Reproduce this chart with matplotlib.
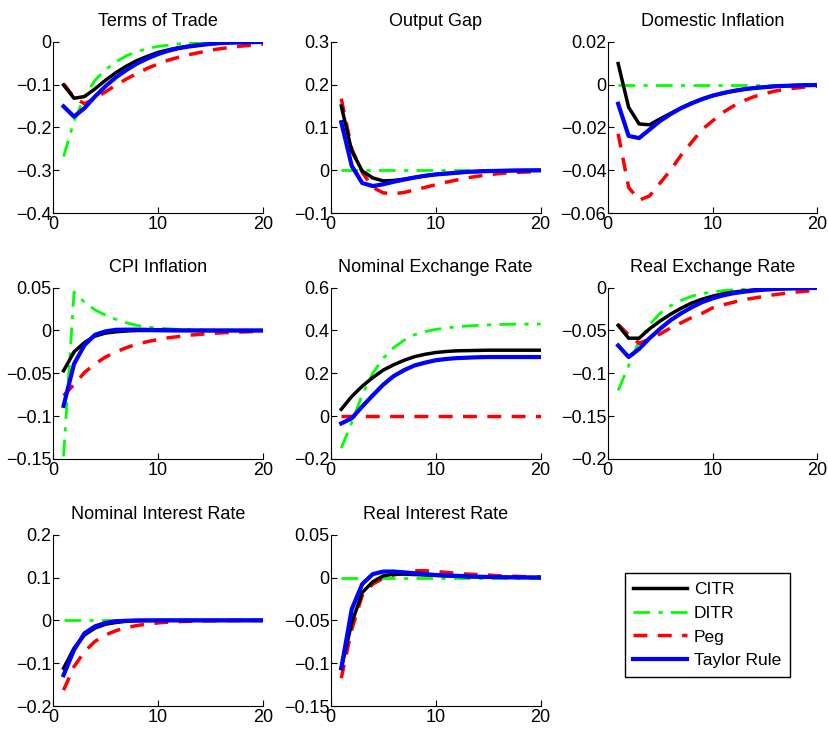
import numpy as np
import matplotlib
matplotlib.use('Agg')
import matplotlib.pyplot as plt

plt.rcParams['font.family'] = ['Liberation Sans', 'DejaVu Sans']
plt.rcParams['font.size'] = 12

periods = np.arange(1, 21)
rules = ['CITR', 'DITR', 'Peg', 'Taylor Rule']

# terms of trade
tot_citr = [-0.101, -0.132, -0.128, -0.110, -0.090, -0.072, -0.057, -0.044, -0.034, -0.025,
            -0.019, -0.014, -0.010, -0.007, -0.005, -0.003, -0.002, -0.0015, -0.001, -0.0007]
tot_ditr = [-0.268, -0.186, -0.128, -0.090, -0.065, -0.047, -0.033, -0.023, -0.016, -0.011,
            -0.008, -0.005, -0.003, -0.002, -0.0015, -0.001, -0.0007, -0.0005, -0.0003, -0.0002]
tot_peg = [-0.098, -0.130, -0.145, -0.132, -0.117, -0.101, -0.087, -0.074, -0.062, -0.052,
           -0.043, -0.036, -0.030, -0.025, -0.020, -0.016, -0.013, -0.010, -0.008, -0.006]
tot_taylor = [-0.151, -0.175, -0.155, -0.128, -0.104, -0.083, -0.066, -0.051, -0.039, -0.029,
              -0.021, -0.015, -0.011, -0.008, -0.005, -0.003, -0.002, -0.0015, -0.001, -0.0007]

# output gap
gap_citr = [0.150, 0.045, -0.002, -0.018, -0.025, -0.024, -0.021, -0.017, -0.013, -0.010,
            -0.008, -0.006, -0.004, -0.003, -0.002, -0.0015, -0.001, -0.0007, -0.0005, -0.0003]
gap_ditr = [0.0] * 20
gap_peg = [0.167, 0.050, -0.005, -0.040, -0.053, -0.055, -0.052, -0.046, -0.040, -0.034,
           -0.028, -0.023, -0.018, -0.014, -0.011, -0.008, -0.006, -0.005, -0.004, -0.003]
gap_taylor = [0.112, 0.010, -0.030, -0.037, -0.033, -0.027, -0.022, -0.017, -0.013, -0.010,
              -0.008, -0.006, -0.004, -0.003, -0.002, -0.0015, -0.001, -0.0007, -0.0005, -0.0003]

# domestic inflation
dinf_citr = [0.0098, -0.0106, -0.0184, -0.0188, -0.0160, -0.0135, -0.0110, -0.0087, -0.0068, -0.0052,
             -0.0040, -0.0030, -0.0022, -0.0016, -0.0012, -0.0008, -0.0006, -0.0004, -0.0003, -0.0002]
dinf_ditr = [0.0] * 20
dinf_peg = [-0.023, -0.048, -0.054, -0.052, -0.046, -0.040, -0.033, -0.027, -0.021, -0.017,
            -0.013, -0.010, -0.0075, -0.0056, -0.0042, -0.0030, -0.0022, -0.0016, -0.0011, -0.0008]
dinf_taylor = [-0.009, -0.024, -0.025, -0.021, -0.017, -0.0138, -0.0110, -0.0088, -0.0068, -0.0052,
               -0.0040, -0.0030, -0.0022, -0.0016, -0.0012, -0.0008, -0.0006, -0.0004, -0.0003, -0.0002]

# cpi inflation
cpi_citr = [-0.047, -0.025, -0.014, -0.0065, -0.003, -0.0015, -0.0006, 0.0, 0.0, 0.0,
            0.0, 0.0, 0.0, 0.0, 0.0, 0.0, 0.0, 0.0, 0.0, 0.0]
cpi_ditr = [-0.147, 0.045, 0.033, 0.024, 0.018, 0.013, 0.009, 0.006, 0.004, 0.003,
            0.002, 0.0013, 0.0009, 0.0006, 0.0004, 0.0003, 0.0002, 0.0001, 0.0001, 0.0]
cpi_peg = [-0.076, -0.063, -0.049, -0.039, -0.031, -0.025, -0.020, -0.016, -0.013, -0.0105,
           -0.0085, -0.007, -0.0055, -0.0045, -0.0035, -0.0028, -0.0022, -0.0017, -0.0013, -0.001]
cpi_taylor = [-0.088, -0.039, -0.017, -0.005, -0.001, 0.0008, 0.001, 0.001, 0.0008, 0.0005,
              0.0003, 0.0002, 0.0001, 0.0, 0.0, 0.0, 0.0, 0.0, 0.0, 0.0]

# nominal exchange rate
ner_citr = [0.032, 0.092, 0.140, 0.180, 0.215, 0.240, 0.261, 0.278, 0.289, 0.297,
            0.302, 0.305, 0.306, 0.307, 0.308, 0.308, 0.308, 0.308, 0.308, 0.308]
ner_ditr = [-0.150, -0.030, 0.100, 0.200, 0.270, 0.320, 0.355, 0.380, 0.395, 0.405,
            0.412, 0.417, 0.421, 0.424, 0.426, 0.428, 0.429, 0.430, 0.430, 0.430]
ner_peg = [0.0] * 20
ner_taylor = [-0.034, -0.010, 0.045, 0.097, 0.147, 0.187, 0.215, 0.237, 0.250, 0.261,
              0.267, 0.271, 0.273, 0.275, 0.276, 0.276, 0.276, 0.276, 0.276, 0.276]

# real exchange rate
rer_citr = [-0.044, -0.059, -0.059, -0.048, -0.039, -0.031, -0.024, -0.018, -0.0135, -0.0099,
            -0.0072, -0.0052, -0.0037, -0.0026, -0.0018, -0.0013, -0.0009, -0.0006, -0.0004, -0.0003]
rer_ditr = [-0.120, -0.091, -0.062, -0.043, -0.030, -0.021, -0.015, -0.010, -0.007, -0.005,
            -0.0035, -0.0025, -0.0017, -0.0012, -0.0008, -0.0005, -0.0003, -0.0002, -0.0001, -0.0001]
rer_peg = [-0.043, -0.055, -0.065, -0.060, -0.054, -0.047, -0.041, -0.035, -0.030, -0.0235,
           -0.020, -0.017, -0.014, -0.012, -0.010, -0.008, -0.0065, -0.005, -0.004, -0.003]
rer_taylor = [-0.0675, -0.081, -0.0715, -0.059, -0.048, -0.038, -0.030, -0.023, -0.017, -0.0125,
              -0.009, -0.0065, -0.0047, -0.0033, -0.0023, -0.0016, -0.0011, -0.0008, -0.0005, -0.0003]

# nominal interest rate
nir_citr = [-0.112, -0.065, -0.034, -0.018, -0.009, -0.005, -0.002, -0.001, -0.0005, 0.0,
            0.0, 0.0, 0.0, 0.0, 0.0, 0.0, 0.0, 0.0, 0.0, 0.0]
nir_ditr = [0.0] * 20
nir_peg = [-0.163, -0.108, -0.073, -0.049, -0.034, -0.024, -0.017, -0.012, -0.0085, -0.006,
           -0.004, -0.003, -0.002, -0.0014, -0.001, -0.0007, -0.0005, -0.0003, -0.0002, -0.0001]
nir_taylor = [-0.128, -0.069, -0.030, -0.014, -0.006, -0.002, -0.001, 0.0, 0.0, 0.0,
              0.0, 0.0, 0.0, 0.0, 0.0, 0.0, 0.0, 0.0, 0.0, 0.0]

# real interest rate
rir_citr = [-0.106, -0.053, -0.0175, -0.005, 0.002, 0.004, 0.004, 0.0035, 0.003, 0.0025,
            0.002, 0.0015, 0.001, 0.0007, 0.0005, 0.0003, 0.0002, 0.0001, 0.0001, 0.0]
rir_ditr = [0.0] * 20
rir_peg = [-0.1175, -0.0605, -0.021, -0.0076, -0.001, 0.003, 0.005, 0.008, 0.008, 0.007,
           0.006, 0.005, 0.004, 0.0035, 0.003, 0.002, 0.0017, 0.0013, 0.001, 0.0008]
rir_taylor = [-0.106, -0.037, -0.0076, 0.004, 0.007, 0.007, 0.006, 0.005, 0.004, 0.003,
              0.0025, 0.002, 0.0015, 0.001, 0.0007, 0.0005, 0.0003, 0.0002, 0.0001, 0.0]

titles = ['Terms of Trade', 'Output Gap', 'Domestic Inflation',
          'CPI Inflation', 'Nominal Exchange Rate', 'Real Exchange Rate',
          'Nominal Interest Rate', 'Real Interest Rate']
series = [
    (tot_citr, tot_ditr, tot_peg, tot_taylor),
    (gap_citr, gap_ditr, gap_peg, gap_taylor),
    (dinf_citr, dinf_ditr, dinf_peg, dinf_taylor),
    (cpi_citr, cpi_ditr, cpi_peg, cpi_taylor),
    (ner_citr, ner_ditr, ner_peg, ner_taylor),
    (rer_citr, rer_ditr, rer_peg, rer_taylor),
    (nir_citr, nir_ditr, nir_peg, nir_taylor),
    (rir_citr, rir_ditr, rir_peg, rir_taylor),
]
y_limits = [(-0.4, 0), (-0.1, 0.3), (-0.06, 0.02),
            (-0.15, 0.05), (-0.2, 0.6), (-0.2, 0),
            (-0.2, 0.2), (-0.15, 0.05)]
y_ticks = [[-0.4, -0.3, -0.2, -0.1, 0], [-0.1, 0, 0.1, 0.2, 0.3], [-0.06, -0.04, -0.02, 0, 0.02],
           [-0.15, -0.1, -0.05, 0, 0.05], [-0.2, 0, 0.2, 0.4, 0.6], [-0.2, -0.15, -0.1, -0.05, 0],
           [-0.2, -0.1, 0, 0.1, 0.2], [-0.15, -0.1, -0.05, 0, 0.05]]

styles = [
    dict(color='black', linestyle='-', linewidth=2.5),
    dict(color=(0, 1, 0), linestyle=(0, (6, 3, 1.5, 3)), linewidth=2),
    dict(color=(1, 0, 0), linestyle=(0, (4, 3)), linewidth=2.5),
    dict(color=(0, 0, 1), linestyle='-', linewidth=3),
]
draw_order = [1, 2, 0, 3]

fig = plt.figure(figsize=(8.29, 7.32), dpi=100)
lefts = [0.064, 0.399, 0.733]
bottoms = [0.709, 0.373, 0.0355]
w, h = 0.253, 0.234


def fmt_tick(v):
    if v == 0:
        return '0'
    s = ('%g' % v)
    return s.replace('-', '\u2212')


handles = [None] * 4
for k, title in enumerate(titles):
    r, c = divmod(k, 3)
    ax = fig.add_axes([lefts[c], bottoms[r], w, h])
    for i in draw_order:
        ln, = ax.plot(periods, series[k][i], label=rules[i], **styles[i])
        handles[i] = ln
    ax.set_xlim(0, 20)
    ax.set_ylim(*y_limits[k])
    ax.set_xticks([0, 10, 20])
    ax.set_yticks(y_ticks[k])
    ax.set_yticklabels([fmt_tick(v) for v in y_ticks[k]])
    ax.spines['top'].set_visible(False)
    ax.spines['right'].set_visible(False)
    ax.tick_params(direction='in', length=4, width=0.8, labelsize=13)
    ax.tick_params(axis='y', pad=1)
    ax.tick_params(axis='x', pad=2)
    ax.set_title(title, fontsize=13, pad=11)

fig.legend(handles, rules, loc='upper left', bbox_to_anchor=(0.743, 0.229),
           fancybox=False, edgecolor='black', framealpha=1, fontsize=12.5,
           handlelength=3.1, handletextpad=0.4, labelspacing=0.5, borderpad=0.5)

plt.savefig('out.png', dpi=100)
plt.close()
